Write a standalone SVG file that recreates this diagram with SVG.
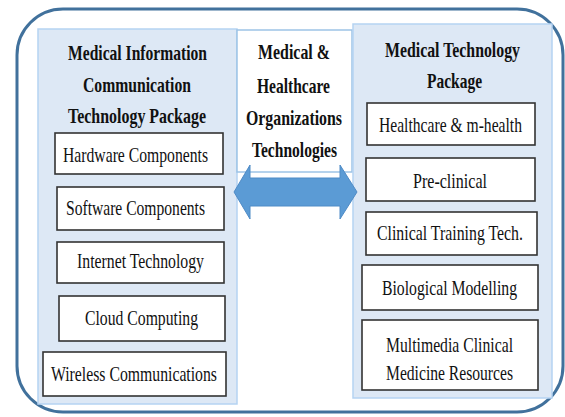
<svg xmlns="http://www.w3.org/2000/svg" width="565" height="417" viewBox="0 0 565 417">
  <style>
    .frame { fill: #ffffff; stroke: #41719c; stroke-width: 3; }
    .panel { fill: #dde8f5; stroke: #b5d3f2; stroke-width: 1.5; }
    .hub { fill: #ffffff; stroke: #9dc3e6; stroke-width: 1.5; }
    .item { fill: #ffffff; stroke: #333333; stroke-width: 1.6; }
    text { font-family: "Liberation Serif", "Times New Roman", serif; fill: #111111; }
    .title { font-weight: bold; font-size: 22px; }
    .label { font-size: 22px; }
    .arrow { fill: #5b9bd5; stroke: #4f8bc6; stroke-width: 1; }
  </style>

  <!-- outer rounded frame -->
  <rect class="frame" x="17" y="9" width="546" height="403" rx="46" ry="46"/>

  <!-- left package -->
  <g id="ict-package">
    <rect class="panel" x="38" y="29" width="199" height="375"/>
    <text class="title" x="68" y="60" textLength="139" lengthAdjust="spacingAndGlyphs">Medical Information</text>
    <text class="title" x="83" y="92" textLength="108" lengthAdjust="spacingAndGlyphs">Communication</text>
    <text class="title" x="68" y="123" textLength="138" lengthAdjust="spacingAndGlyphs">Technology Package</text>
  </g>
  <g id="hardware">
    <rect class="item" x="55" y="133" width="168" height="41"/>
    <text class="label" x="63" y="162" textLength="145" lengthAdjust="spacingAndGlyphs">Hardware Components</text>
  </g>
  <g id="software">
    <rect class="item" x="57" y="187" width="167" height="43"/>
    <text class="label" x="66" y="215" textLength="139" lengthAdjust="spacingAndGlyphs">Software Components</text>
  </g>
  <g id="internet">
    <rect class="item" x="57" y="242" width="167" height="41"/>
    <text class="label" x="77" y="268" textLength="127" lengthAdjust="spacingAndGlyphs">Internet Technology</text>
  </g>
  <g id="cloud">
    <rect class="item" x="59" y="296" width="166" height="45"/>
    <text class="label" x="85" y="325" textLength="113" lengthAdjust="spacingAndGlyphs">Cloud Computing</text>
  </g>
  <g id="wireless">
    <rect class="item" x="43" y="352" width="183" height="44"/>
    <text class="label" x="51" y="381" textLength="166" lengthAdjust="spacingAndGlyphs">Wireless Communications</text>
  </g>

  <!-- centre organisations box -->
  <g id="organizations">
    <rect class="hub" x="237" y="30" width="115" height="142"/>
    <text class="title" x="258" y="59" textLength="72" lengthAdjust="spacingAndGlyphs">Medical &amp;</text>
    <text class="title" x="257" y="93" textLength="73" lengthAdjust="spacingAndGlyphs">Healthcare</text>
    <text class="title" x="246" y="125" textLength="96" lengthAdjust="spacingAndGlyphs">Organizations</text>
    <text class="title" x="252" y="157" textLength="85" lengthAdjust="spacingAndGlyphs">Technologies</text>
  </g>

  <!-- right package -->
  <g id="medtech-package">
    <rect class="panel" x="353" y="24" width="199" height="374"/>
    <text class="title" x="385" y="57" textLength="135" lengthAdjust="spacingAndGlyphs">Medical Technology</text>
    <text class="title" x="427" y="88" textLength="55" lengthAdjust="spacingAndGlyphs">Package</text>
  </g>
  <g id="mhealth">
    <rect class="item" x="367" y="103" width="168" height="42"/>
    <text class="label" x="379" y="132" textLength="143" lengthAdjust="spacingAndGlyphs">Healthcare &amp; m-health</text>
  </g>
  <g id="preclinical">
    <rect class="item" x="366" y="158" width="169" height="43"/>
    <text class="label" x="413" y="188" textLength="74" lengthAdjust="spacingAndGlyphs">Pre-clinical</text>
  </g>
  <g id="clinical-training">
    <rect class="item" x="366" y="212" width="171" height="43"/>
    <text class="label" x="377" y="240" textLength="146" lengthAdjust="spacingAndGlyphs">Clinical Training Tech.</text>
  </g>
  <g id="bio-modelling">
    <rect class="item" x="362" y="265" width="176" height="45"/>
    <text class="label" x="382" y="295" textLength="135" lengthAdjust="spacingAndGlyphs">Biological Modelling</text>
  </g>
  <g id="multimedia">
    <rect class="item" x="362" y="320" width="176" height="70"/>
    <text class="label" x="386" y="352" textLength="127" lengthAdjust="spacingAndGlyphs">Multimedia Clinical</text>
    <text class="label" x="386" y="380" textLength="127" lengthAdjust="spacingAndGlyphs">Medicine Resources</text>
  </g>

  <!-- connectors -->
  <g id="connectors">
    <path class="arrow" d="M234,192 L250,165 L250,178 L340,178 L340,165 L357,192 L340,219 L340,206 L250,206 L250,219 Z"/>
  </g>
</svg>
